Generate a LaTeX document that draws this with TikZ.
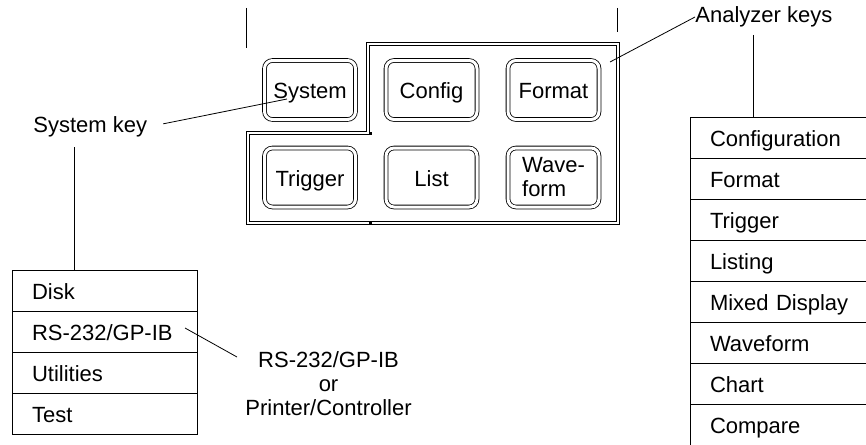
\documentclass[tikz,border=0pt]{standalone}
\usepackage{fontspec}
\setmainfont{Liberation Sans}
\tikzset{
  lbl/.style={inner sep=0pt, font=\fontsize{22}{24}\selectfont},
  oneline/.style={text height=20pt, text depth=3pt},
  key/.style={lbl, draw, double, double distance=3pt, line width=0.8pt,
    rounded corners=8pt, minimum width=91pt, minimum height=59pt, align=left},
  item/.style={lbl, oneline, draw, line width=0.8pt, inner xsep=20pt,
    minimum height=41pt, align=left, anchor=north}
}
\begin{document}
\begin{tikzpicture}[x=1pt,y=-1pt,line width=0.8pt]
      \clip (0,0) rectangle (866,444);
      % front panel
      \draw (246,8) -- (246,48);
      \draw (617,8) -- (617,32);
      \draw[line width=0.7pt] (246.5,131.5) -- (366.5,131.5) -- (366.5,42.5) -- (619.5,42.5)
        -- (619.5,224.5) -- (246.5,224.5) -- cycle;
      \draw[line width=0.7pt] (249.5,134.5) -- (369.5,134.5) -- (369.5,45.5) -- (616.5,45.5)
        -- (616.5,221.5) -- (249.5,221.5) -- cycle;
      \fill (369,132) rectangle (372,135);
      \fill (369,222) rectangle (372,225);
      \node[key, oneline] (system) at (310,90)    {System};
      \node[key, oneline] (config) at (431.5,90)  {Config};
      \node[key, oneline] (format) at (553.5,90)  {Format};
      \node[key, oneline] (trig)   at (310,177.5) {Trigger};
      \node[key, oneline] (list)   at (431.5,177.5) {List};
      \node[key] (wave)   at (553.5,177.5) {Wave-\\form};
      % labels
      \node[lbl, anchor=west] (syslab) at (33,127) {System key};
      \node[lbl, anchor=west] (anlab) at (695,17) {Analyzer keys};
      \coordinate (syspt) at (287,99);
      \coordinate (anpt) at (610,62);
      \draw[shorten <=16pt] (syslab.east) -- (syspt);
      \draw (anlab.west) -- (anpt);
      % menus
      \foreach \t [count=\k from 0] in {Disk, RS-232/GP-IB, Utilities, Test}
        \node[item, text width=145pt] (sys\k) at (104.5,{270+41*\k}) {\t};
      \foreach \t [count=\k from 0] in {Configuration, Format, Trigger, Listing,
          Mixed Display, Waveform, Chart, Compare}
        \node[item, text width=150pt] (ana\k) at (785,{117+41*\k}) {\t};
      \coordinate (systop) at (74,147);
      \coordinate (antop) at (753,35);
      \draw (systop) -- (systop |- sys0.north);
      \draw (antop) -- (antop |- ana0.north);
      % port note
      \node[lbl, anchor=north west, align=center] (rsnote) at (245,351)
        {RS-232/GP-IB\\or\\Printer/Controller};
      \coordinate (rspt) at (185,328);
      \draw (rspt) -- ([shift={(-8pt,-6pt)}]rsnote.north west);
\end{tikzpicture}
\end{document}
